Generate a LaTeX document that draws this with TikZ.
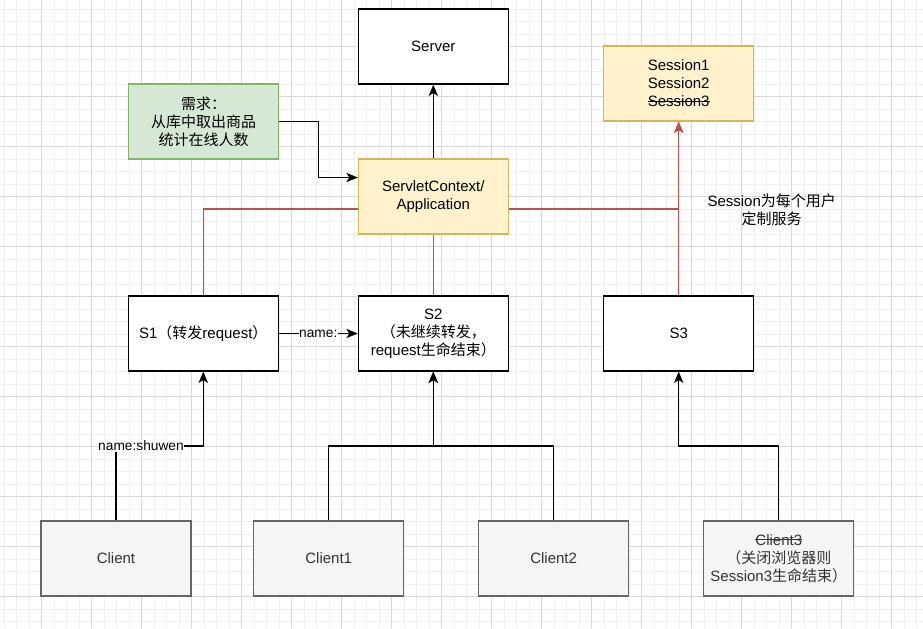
\documentclass[tikz,border=0pt]{standalone}
\usepackage{fontspec}
\setmainfont{Liberation Sans}
\newfontfamily\cjk{Noto Sans CJK SC}
\usetikzlibrary{arrows.meta}
\newsavebox{\mystrikebox}
\newcommand{\mystrike}[1]{\leavevmode\sbox{\mystrikebox}{#1}\rlap{\rule[0.33em]{\wd\mystrikebox}{0.6pt}}\usebox{\mystrikebox}}
\definecolor{minorg}{HTML}{F0F0F0}
\definecolor{majorg}{HTML}{D8D8D8}
\definecolor{greenfill}{HTML}{D5E8D4}
\definecolor{greenline}{HTML}{82B366}
\definecolor{yellowfill}{HTML}{FFF2CC}
\definecolor{yellowline}{HTML}{D6B656}
\definecolor{grayfill}{HTML}{F5F5F5}
\definecolor{grayline}{HTML}{666666}
\definecolor{graytext}{HTML}{333333}
\definecolor{redline}{HTML}{B85450}
\begin{document}
\begin{tikzpicture}[x=0.75pt,y=-0.75pt,
  box/.style={draw=black,line width=0.9pt,fill=white,minimum width=112.5pt,minimum height=56.25pt,inner sep=0pt,align=center,font=\fontsize{11.25pt}{13.5pt}\selectfont},
  greenbox/.style={box,draw=greenline,fill=greenfill},
  yellowbox/.style={box,draw=yellowline,fill=yellowfill},
  graybox/.style={box,draw=grayline,fill=grayfill,text=graytext},
  arr/.style={draw=black,line width=0.9pt,-{Stealth[length=8.5pt,width=7pt,inset=2.2pt]}},
  plain/.style={draw=black,line width=0.9pt},
  redarr/.style={draw=redline,line width=0.8pt,-{Stealth[length=8.5pt,width=7pt,inset=2.2pt]}},
  redplain/.style={draw=redline,line width=0.8pt},
  lbl/.style={fill=white,inner sep=0.5pt,font=\fontsize{10.3pt}{12pt}\selectfont},
  txt/.style={align=center,inner sep=0pt,font=\fontsize{11.25pt}{13.5pt}\selectfont}
]
\useasboundingbox (0,0) rectangle (923,628);
\fill[white] (0,0) rectangle (923,628);
% grid
\foreach \k in {0,...,73} \draw[minorg,line width=0.75pt] ({4.2+12.5*\k},0) -- ({4.2+12.5*\k},628);
\foreach \k in {0,...,49} \draw[minorg,line width=0.75pt] (0,{9.2+12.5*\k}) -- (923,{9.2+12.5*\k});
\foreach \k in {0,...,17} \draw[majorg,line width=0.75pt] ({41.7+50*\k},0) -- ({41.7+50*\k},628);
\foreach \k in {0,...,11} \draw[majorg,line width=0.75pt] (0,{46.7+50*\k}) -- (923,{46.7+50*\k});

% nodes
\node[box] (server) at (433.3,46.5) {Server};
\node[yellowbox] (sess) at (678.7,83.5) {Session1\\Session2\\\mystrike{Session3}};
\node[greenbox] (req) at (203.5,121.5) {\cjk 需求：\\\cjk 从库中取出商品\\\cjk 统计在线人数};
\node[yellowbox] (ctx) at (433.3,196.5) {ServletContext/\\Application};
\node[box] (s1) at (203.3,333.5) {S1{\cjk （转发}request{\cjk ）}};
\node[box] (s2) at (433.3,333.5) {S2\\{\cjk （未继续转发，}\\request{\cjk 生命结束）}};
\node[box] (s3) at (678.7,333.5) {S3};
\node[graybox] (cl) at (116,558.5) {Client};
\node[graybox] (c1) at (328.7,558.5) {Client1};
\node[graybox] (c2) at (553.6,558.5) {Client2};
\node[graybox] (c3) at (778.8,558.5) {\mystrike{Client3}\\{\cjk （关闭浏览器则}\\Session3{\cjk 生命结束）}};
\node[txt] (note) at (771.7,210) {Session{\cjk 为每个用户}\\{\cjk 定制服务}};

\coordinate (r) at (0,209);
\coordinate (q) at (318.5,177.5);
\coordinate (j) at (0,446);

% red connectors
\draw[redplain] (s1.north) |- (ctx.west |- r);
\draw[redplain] (s2.north) -- (ctx.south);
\draw[redarr] (ctx.east |- r) -| (sess.south);
\draw[redarr] (s3.north) -- (sess.south);

% black connectors
\draw[arr] (ctx.north) -- (server.south);
\draw[arr] (req.east) -| (q) -- (ctx.west |- q);
\draw[arr] (s1.east) -- node[lbl] {name:} (s2.west);
\draw[arr] (cl.north) -- (cl.north |- j) -| (s1.south);
\node[lbl] (lab) at (141,446) {name:shuwen};
\draw[arr] (c1.north) -- (c1.north |- j) -| (s2.south);
\draw[arr] (c2.north) -- (c2.north |- j) -| (s2.south);
\draw[arr] (c3.north) -- (c3.north |- j) -| (s3.south);
\end{tikzpicture}
\end{document}
